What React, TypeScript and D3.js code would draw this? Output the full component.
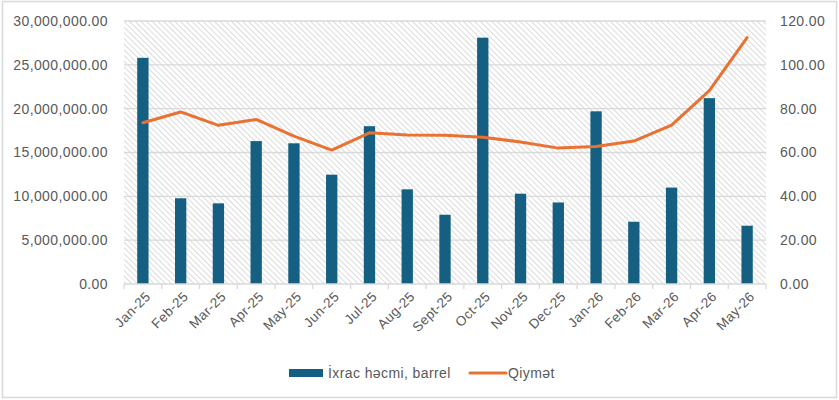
import React, { useEffect, useRef } from 'react';
import * as d3 from 'd3';

const months = ['Jan-25', 'Feb-25', 'Mar-25', 'Apr-25', 'May-25', 'Jun-25', 'Jul-25', 'Aug-25', 'Sept-25', 'Oct-25', 'Nov-25', 'Dec-25', 'Jan-26', 'Feb-26', 'Mar-26', 'Apr-26', 'May-26'];
const volume = [25800000, 9780000, 9200000, 16300000, 16050000, 12470000, 18000000, 10800000, 7900000, 28100000, 10300000, 9300000, 19700000, 7100000, 11000000, 21200000, 6650000];
const price = [73.6, 78.5, 72.4, 75.1, 67.5, 61.1, 69.0, 68.0, 67.9, 67.0, 64.8, 62.0, 62.7, 65.2, 72.5, 88.2, 112.4];
const leftTicks = [0, 5000000, 10000000, 15000000, 20000000, 25000000, 30000000];
const rightTicks = [0, 20, 40, 60, 80, 100, 120];
const volumeLabel = 'İxrac həcmi, barrel';
const priceLabel = 'Qiymət';

const App: React.FC = () => {
    const ref = useRef<SVGSVGElement>(null);

    useEffect(() => {
        const svg = d3.select(ref.current);
        svg.selectAll('*').remove();

        const W = 839, H = 400;
        const left = 124, right = 766, top = 21, bottom = 284;
        const font = "'Liberation Sans', Arial, sans-serif";
        const textColor = '#595959';
        const ls = '0.4px';

        svg.append('rect').attr('x', 0).attr('y', 0).attr('width', W).attr('height', H).attr('fill', '#fff');
        svg.append('rect').attr('x', 2.5).attr('y', 1.5).attr('width', W - 5).attr('height', H - 4)
            .attr('fill', 'none').attr('stroke', '#d9d9d9').attr('stroke-width', 1.5);

        // downward diagonal hatch of the plot area
        const defs = svg.append('defs');
        const pat = defs.append('pattern').attr('id', 'hatch').attr('patternUnits', 'userSpaceOnUse')
            .attr('width', 4).attr('height', 4).attr('patternTransform', 'rotate(-45)');
        pat.append('line').attr('x1', 0).attr('y1', 0).attr('x2', 0).attr('y2', 4)
            .attr('stroke', '#cccccc').attr('stroke-width', 1.4);

        const x = d3.scaleBand().domain(months).range([left, right]).paddingInner(0.7).paddingOuter(0.35);
        const xb = d3.scaleBand().domain(months).range([left, right]);
        const yL = d3.scaleLinear().domain([0, 30000000]).range([bottom, top]);
        const yR = d3.scaleLinear().domain([0, 120]).range([bottom, top]);

        svg.append('rect').attr('x', left).attr('y', top).attr('width', right - left).attr('height', bottom - top)
            .attr('fill', 'url(#hatch)');

        // gridlines
        svg.append('g').selectAll('line').data(leftTicks.slice(1)).enter().append('line')
            .attr('x1', left).attr('x2', right)
            .attr('y1', d => yL(d)).attr('y2', d => yL(d))
            .attr('stroke', '#d9d9d9').attr('stroke-width', 1.3);

        // left axis labels
        const fmt = d3.format(',.2f');
        svg.append('g').selectAll('text').data(leftTicks).enter().append('text')
            .attr('x', 108).attr('y', d => yL(d)).attr('dy', '0.35em')
            .attr('text-anchor', 'end').attr('font-family', font).attr('font-size', 14).attr('letter-spacing', ls)
            .attr('fill', textColor).text(d => fmt(d));

        // right axis labels
        svg.append('g').selectAll('text').data(rightTicks).enter().append('text')
            .attr('x', 780).attr('y', d => yR(d)).attr('dy', '0.35em')
            .attr('text-anchor', 'start').attr('font-family', font).attr('font-size', 14).attr('letter-spacing', ls)
            .attr('fill', textColor).text(d => d.toFixed(2));

        // bars
        svg.append('g').selectAll('rect').data(months).enter().append('rect')
            .attr('x', d => x(d) as number).attr('width', x.bandwidth())
            .attr('y', (d, i) => yL(volume[i])).attr('height', (d, i) => bottom - yL(volume[i]))
            .attr('fill', '#156082');

        // x axis
        svg.append('line').attr('x1', left).attr('x2', right).attr('y1', bottom).attr('y2', bottom)
            .attr('stroke', '#d9d9d9').attr('stroke-width', 1.3);
        const tickPos = months.map(m => xb(m) as number).concat([right]);
        svg.append('g').selectAll('line').data(tickPos).enter().append('line')
            .attr('x1', d => d).attr('x2', d => d).attr('y1', bottom).attr('y2', bottom + 5)
            .attr('stroke', '#d9d9d9').attr('stroke-width', 1.3);

        svg.append('g').selectAll('text').data(months).enter().append('text')
            .attr('transform', d => `translate(${(xb(d) as number) + xb.bandwidth() / 2 + 5},${bottom + 10}) rotate(-45)`)
            .attr('text-anchor', 'end').attr('dy', '0.35em')
            .attr('font-family', font).attr('font-size', 13.5).attr('letter-spacing', ls)
            .attr('fill', textColor).text(d => d);

        // price line
        const line = d3.line<number>()
            .x((d, i) => (xb(months[i]) as number) + xb.bandwidth() / 2)
            .y(d => yR(d));
        svg.append('path').datum(price).attr('d', line).attr('fill', 'none')
            .attr('stroke', '#e97132').attr('stroke-width', 3).attr('stroke-linejoin', 'round').attr('stroke-linecap', 'round');

        // legend
        const lg = svg.append('g');
        lg.append('rect').attr('x', 289).attr('y', 369).attr('width', 34).attr('height', 8).attr('fill', '#156082');
        lg.append('text').attr('x', 328).attr('y', 373).attr('dy', '0.35em')
            .attr('font-family', font).attr('font-size', 14).attr('letter-spacing', ls)
            .attr('fill', textColor).text(volumeLabel);
        lg.append('line').attr('x1', 470).attr('x2', 506).attr('y1', 373).attr('y2', 373)
            .attr('stroke', '#e97132').attr('stroke-width', 3).attr('stroke-linecap', 'round');
        lg.append('text').attr('x', 508).attr('y', 373).attr('dy', '0.35em')
            .attr('font-family', font).attr('font-size', 14).attr('letter-spacing', ls)
            .attr('fill', textColor).text(priceLabel);
    }, []);

    return <svg ref={ref} width={839} height={400} style={{ display: 'block', position: 'absolute', left: 0, top: 0 }}></svg>;
};

export default App;
